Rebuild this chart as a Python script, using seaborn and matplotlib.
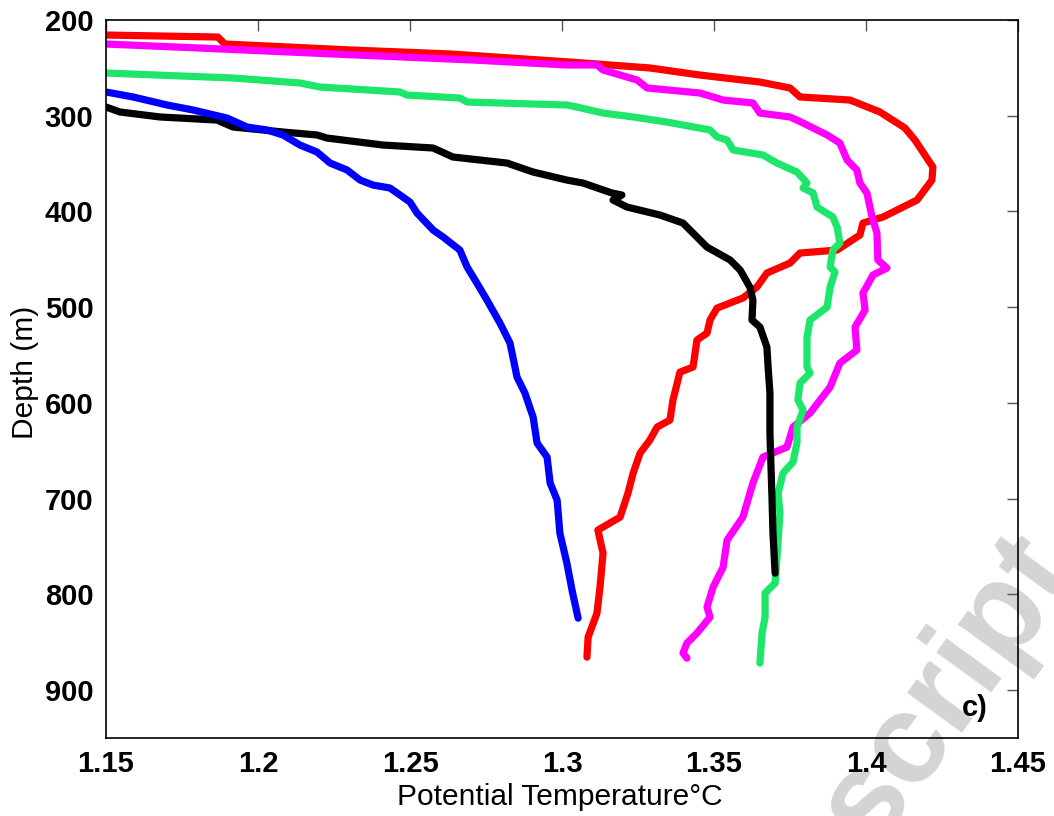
import numpy as np
import pandas as pd
import matplotlib
matplotlib.use("Agg")
import matplotlib.pyplot as plt
import seaborn as sns

# ---- data ----
red_theta = [1.15, 1.1868, 1.1891, 1.2303, 1.2632, 1.3026, 1.3289, 1.3454, 1.3651, 1.3750, 1.3783,
             1.3947, 1.4046, 1.4128, 1.4161, 1.4220, 1.4217, 1.4168, 1.4056, 1.3990, 1.3980, 1.3905,
             1.3783, 1.3750, 1.3674, 1.3641, 1.3595, 1.3510, 1.3487, 1.3477, 1.3444, 1.3431, 1.3388,
             1.3365, 1.3355, 1.3313, 1.3289, 1.3257, 1.3234, 1.3217, 1.3191, 1.3118, 1.3135, 1.3125,
             1.3115, 1.3086, 1.3082]
red_depth = [215.7, 217.8, 225.1, 231.3, 235.5, 243.9, 250.1, 257.5, 264.8, 271.0, 280.4,
             283.6, 296.1, 312.8, 325.4, 353.6, 367.2, 388.1, 405.8, 412.1, 424.6, 440.3,
             443.4, 453.9, 464.3, 479.0, 490.4, 500.9, 513.4, 527.0, 534.3, 562.5, 567.8,
             597.0, 617.9, 625.2, 638.8, 652.4, 673.3, 694.2, 719.3, 732.8, 756.9, 792.4,
             819.6, 844.6, 865.5]

magenta_theta = [1.15, 1.1809, 1.2326, 1.2707, 1.3016, 1.3115, 1.3135, 1.3247, 1.3280, 1.3454, 1.3530,
                 1.3628, 1.3651, 1.3750, 1.3793, 1.3872, 1.3914, 1.3938, 1.3970, 1.3980, 1.4003, 1.4020,
                 1.4036, 1.4039, 1.4069, 1.4023, 1.3990, 1.3997, 1.3964, 1.3970, 1.3914, 1.3882, 1.3816,
                 1.3760, 1.3740, 1.3661, 1.3628, 1.3595, 1.3543, 1.3530, 1.3497, 1.3477, 1.3487, 1.3444,
                 1.3411, 1.3398, 1.3411]
magenta_depth = [225.1, 229.3, 236.6, 241.8, 247.0, 247.0, 252.2, 262.7, 271.0, 276.3, 283.6,
                 286.7, 297.2, 301.3, 307.6, 320.1, 328.5, 346.3, 356.7, 370.3, 380.7, 405.8,
                 422.5, 450.7, 459.1, 466.4, 485.2, 503.0, 520.7, 544.8, 558.4, 583.4, 610.6,
                 625.2, 646.1, 656.6, 683.7, 719.3, 743.3, 771.5, 792.4, 813.3, 823.7, 840.4,
                 850.9, 861.3, 866.6]

green_theta = [1.15, 1.1918, 1.2138, 1.2204, 1.2467, 1.2490, 1.2664, 1.2688, 1.3016, 1.3049, 1.3135,
               1.3234, 1.3345, 1.3487, 1.3510, 1.3543, 1.3563, 1.3661, 1.3707, 1.3773, 1.3806, 1.3793,
               1.3826, 1.3839, 1.3891, 1.3905, 1.3914, 1.3891, 1.3882, 1.3898, 1.3882, 1.3872, 1.3816,
               1.3806, 1.3806, 1.3816, 1.3783, 1.3776, 1.3793, 1.3773, 1.3773, 1.3760, 1.3727, 1.3711,
               1.3717, 1.3711, 1.3701, 1.3668, 1.3668, 1.3658, 1.3651]
green_depth = [255.4, 260.6, 265.8, 270.0, 275.2, 278.4, 281.5, 285.7, 288.8, 290.9, 297.2,
               301.3, 306.6, 314.9, 322.2, 325.4, 335.8, 341.0, 349.4, 358.8, 370.3, 375.5,
               380.7, 395.4, 405.8, 416.3, 433.0, 440.3, 458.1, 463.3, 479.0, 499.9, 513.4,
               531.2, 562.5, 568.8, 579.3, 597.0, 607.5, 625.2, 641.9, 661.8, 673.3, 694.2,
               715.1, 743.3, 788.2, 798.7, 823.7, 840.4, 871.8]

black_theta = [1.15, 1.1546, 1.1678, 1.1865, 1.1918, 1.2082, 1.2194, 1.2227, 1.2411, 1.2576, 1.2641,
               1.2819, 1.2905, 1.3016, 1.3069, 1.3164, 1.3197, 1.3168, 1.3214, 1.3322, 1.3398, 1.3444,
               1.3477, 1.3553, 1.3586, 1.3618, 1.3628, 1.3625, 1.3651, 1.3674, 1.3678, 1.3684, 1.3684,
               1.3691, 1.3694, 1.3701]
black_depth = [290.9, 296.1, 301.3, 304.5, 311.8, 317.0, 320.1, 323.3, 330.6, 333.7, 343.1,
               349.4, 358.8, 367.2, 370.3, 380.7, 382.8, 388.1, 395.4, 403.7, 412.1, 426.7,
               437.2, 450.7, 461.2, 479.0, 492.5, 513.4, 520.7, 541.6, 562.5, 589.7, 631.5,
               701.5, 736.0, 777.8]

blue_theta = [1.15, 1.1589, 1.1701, 1.1786, 1.1898, 1.1964, 1.2030, 1.2082, 1.2138, 1.2194, 1.2237,
              1.2293, 1.2336, 1.2378, 1.2434, 1.2467, 1.2500, 1.2523, 1.2576, 1.2609, 1.2664, 1.2688,
              1.2720, 1.2753, 1.2796, 1.2829, 1.2852, 1.2878, 1.2905, 1.2918, 1.2951, 1.2961, 1.2984,
              1.2993, 1.3016, 1.3033, 1.3053]
blue_depth = [275.2, 280.4, 288.8, 294.0, 302.4, 311.8, 314.9, 320.1, 330.6, 337.9, 349.4,
              356.7, 367.2, 372.4, 375.5, 382.8, 390.2, 401.6, 419.4, 426.7, 440.3, 458.1,
              474.8, 492.5, 516.6, 537.5, 573.0, 589.7, 614.8, 641.9, 656.6, 683.7, 701.5,
              736.0, 767.3, 795.5, 824.8]

cast_names = ["red", "magenta", "green", "black", "blue"]
cast_colors = ["#FF0000", "#FF00FF", "#1EE66A", "#000000", "#0000FF"]
x_ticks = [1.15, 1.2, 1.25, 1.3, 1.35, 1.4, 1.45]
x_tick_labels = ["1.15", "1.2", "1.25", "1.3", "1.35", "1.4", "1.45"]
y_ticks = [200, 300, 400, 500, 600, 700, 800, 900]

series = {
    "red": (red_theta, red_depth),
    "magenta": (magenta_theta, magenta_depth),
    "green": (green_theta, green_depth),
    "black": (black_theta, black_depth),
    "blue": (blue_theta, blue_depth),
}
frames = []
for name in cast_names:
    th, dp = series[name]
    frames.append(pd.DataFrame({"theta": th, "depth": dp, "cast": name}))
df = pd.concat(frames, ignore_index=True)

# ---- plot ----
sns.set_theme(style="white")
plt.rcParams["font.family"] = ["Liberation Sans", "DejaVu Sans"]
plt.rcParams["text.color"] = "black"
plt.rcParams["xtick.color"] = "black"
plt.rcParams["ytick.color"] = "black"
plt.rcParams["axes.labelcolor"] = "black"

fig = plt.figure(figsize=(10.54, 8.16), dpi=100)
ax = fig.add_axes([106/1054, 1-738/816, (1018-106)/1054, (738-20)/816])
ax.set_facecolor("none")

sns.lineplot(data=df, x="theta", y="depth", hue="cast", hue_order=cast_names,
             palette=dict(zip(cast_names, cast_colors)), sort=False, estimator=None,
             units="cast", linewidth=5.2, legend=False, ax=ax,
             solid_capstyle="round", solid_joinstyle="round")

ax.set_xlim(1.15, 1.45)
ax.set_ylim(950, 200)
ax.set_xticks(x_ticks)
ax.set_xticklabels(x_tick_labels)
ax.set_yticks(y_ticks)
ax.tick_params(axis="both", which="both", direction="in", length=8, width=1.0,
               top=True, right=True, labelsize=21, color="#555555", labelcolor="black", pad=9)
for lab in ax.get_xticklabels() + ax.get_yticklabels():
    lab.set_fontweight("bold")
for sp in ax.spines.values():
    sp.set_visible(True)
    sp.set_color("black")
    sp.set_linewidth(1.2)

ax.set_xlabel("")
ax.set_ylabel("")
fig.text(560/1054, 1-797/816, "Potential Temperature°C", fontsize=21.5, color="black",
         ha="center", va="center")
fig.text(25/1054, 1-372/816, "Depth (m)", fontsize=21.5, color="black",
         ha="center", va="center", rotation=90)
fig.text(975/1054, 1-708/816, "c)", fontsize=21, fontweight="bold", color="black",
         ha="center", va="center")

# watermark
fig.text(948/1054, 1-690/816, "script", fontsize=92, fontweight="bold", color="#d4d4d4",
         rotation=54, ha="center", va="center", zorder=-5)

fig.savefig("out.png", dpi=100, facecolor="white")
